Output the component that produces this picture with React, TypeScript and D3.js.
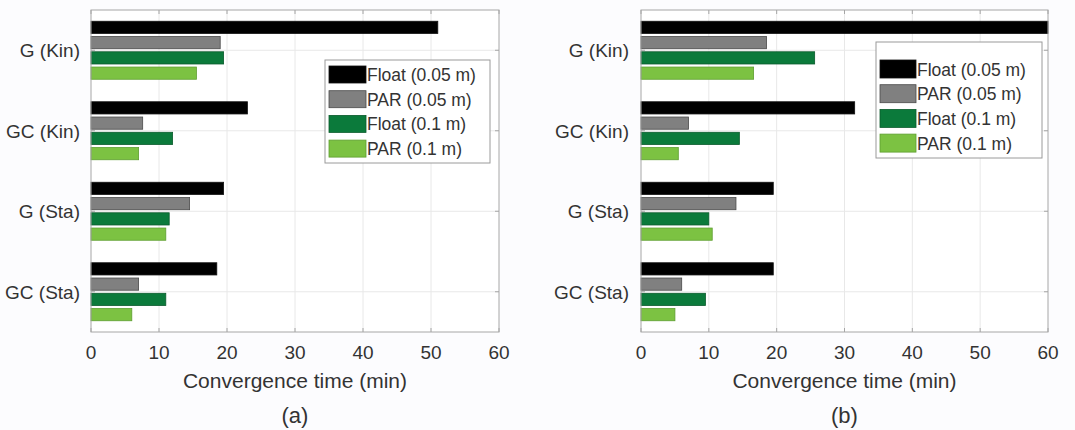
import React from "react";
import * as d3 from "d3";

const categories = ["G (Kin)", "GC (Kin)", "G (Sta)", "GC (Sta)"];
const seriesNames = ["Float (0.05 m)", "PAR (0.05 m)", "Float (0.1 m)", "PAR (0.1 m)"];
const seriesColors = ["#000000", "#808080", "#0b7a3b", "#7cc242"];
const seriesStrokes = ["#111111", "#4a4a4a", "#0a5a2c", "#5e9e30"];
const xTicks = [0, 10, 20, 30, 40, 50, 60];

// Panel (a)
const aFloat005 = [51, 23, 19.5, 18.5];
const aPar005 = [19, 7.6, 14.5, 7];
const aFloat01 = [19.5, 12, 11.5, 11];
const aPar01 = [15.5, 7, 11, 6];

// Panel (b)
const bFloat005 = [60, 31.5, 19.5, 19.5];
const bPar005 = [18.5, 7, 14, 6];
const bFloat01 = [25.6, 14.5, 10, 9.5];
const bPar01 = [16.6, 5.5, 10.5, 5];

const FONT = "'Liberation Sans', Arial, sans-serif";
const TEXT = "#333333";

type PanelProps = {
  series: number[][];
  x0: number;
  x1: number;
  labelRight: number;
  legend: { x: number; y: number; w: number; h: number; rowY: number; pitch: number; swW: number; swH: number };
  caption: string;
};

function Panel({ series, x0, x1, labelRight, legend, caption }: PanelProps) {
  const top = 10;
  const bottom = 332;
  const x = d3.scaleLinear().domain([0, 60]).range([x0, x1]);
  const y = d3.scaleBand<string>().domain(categories).range([top, bottom]).paddingInner(0).paddingOuter(0);
  const inner = d3.scaleBand<string>().domain(seriesNames).range([-29, 29]).paddingInner(0.2);
  const center = (c: string) => (y(c) as number) + y.bandwidth() / 2;

  return (
    <g>
      <rect x={x0} y={top} width={x1 - x0} height={bottom - top} fill="#ffffff" />
      {xTicks.slice(1, -1).map((t) => (
        <line key={"gx" + t} x1={x(t)} x2={x(t)} y1={top} y2={bottom} stroke="#e8e8e8" strokeWidth={1} />
      ))}
      {categories.map((c) => (
        <line key={"gy" + c} x1={x0} x2={x1} y1={center(c)} y2={center(c)} stroke="#e8e8e8" strokeWidth={1} />
      ))}
      {categories.map((c, ci) =>
        seriesNames.map((s, si) => {
          const v = Math.min(series[si][ci], 60);
          return (
            <rect
              key={c + s}
              x={x(0)}
              y={center(c) + (inner(s) as number)}
              width={x(v) - x(0)}
              height={inner.bandwidth()}
              fill={seriesColors[si]}
              stroke={seriesStrokes[si]}
              strokeWidth={0.8}
            />
          );
        })
      )}
      <rect x={x0} y={top} width={x1 - x0} height={bottom - top} fill="none" stroke="#a6a6a6" strokeWidth={1} />
      {xTicks.map((t) => (
        <g key={"t" + t}>
          <line x1={x(t)} x2={x(t)} y1={bottom} y2={bottom - 4} stroke="#a6a6a6" />
          <line x1={x(t)} x2={x(t)} y1={top} y2={top + 4} stroke="#a6a6a6" />
          <text x={x(t)} y={359} textAnchor="middle" fontFamily={FONT} fontSize={19} fill={TEXT}>
            {t}
          </text>
        </g>
      ))}
      {categories.map((c) => (
        <g key={"yl" + c}>
          <line x1={x1} x2={x1 - 4} y1={center(c)} y2={center(c)} stroke="#a6a6a6" />
          <line x1={x0} x2={x0 + 4} y1={center(c)} y2={center(c)} stroke="#a6a6a6" />
          <text x={labelRight} y={center(c) + 7} textAnchor="end" fontFamily={FONT} fontSize={19} fill={TEXT}>
            {c}
          </text>
        </g>
      ))}
      <text x={(x0 + x1) / 2} y={388} textAnchor="middle" fontFamily={FONT} fontSize={21} fill={TEXT}>
        Convergence time (min)
      </text>
      <text x={(x0 + x1) / 2} y={423} textAnchor="middle" fontFamily={FONT} fontSize={22} fill={TEXT}>
        {caption}
      </text>
      <rect x={legend.x} y={legend.y} width={legend.w} height={legend.h} fill="#ffffff" stroke="#9a9a9a" strokeWidth={1} />
      {seriesNames.map((s, si) => {
        const ry = legend.rowY + si * legend.pitch;
        return (
          <g key={"lg" + s}>
            <rect x={legend.x + 4} y={ry} width={legend.swW} height={legend.swH} fill={seriesColors[si]} stroke={seriesStrokes[si]} strokeWidth={0.8} />
            <text x={legend.x + legend.swW + 5} y={ry + legend.swH / 2 + 6.5} fontFamily={FONT} fontSize={17.5} fill={TEXT}>
              {s}
            </text>
          </g>
        );
      })}
    </g>
  );
}

export default function App() {
  return (
    <svg
      width={1075}
      height={430}
      style={{ position: "absolute", left: 0, top: 0, background: "#fcfcfe" }}
    >
      <Panel
        series={[aFloat005, aPar005, aFloat01, aPar01]}
        x0={91}
        x1={499}
        labelRight={80}
        legend={{ x: 325, y: 60, w: 165, h: 103, rowY: 66, pitch: 24.7, swW: 37, swH: 17 }}
        caption="(a)"
      />
      <Panel
        series={[bFloat005, bPar005, bFloat01, bPar01]}
        x0={641}
        x1={1048}
        labelRight={629}
        legend={{ x: 876, y: 42, w: 166, h: 116, rowY: 60, pitch: 24.7, swW: 36, swH: 18 }}
        caption="(b)"
      />
    </svg>
  );
}
